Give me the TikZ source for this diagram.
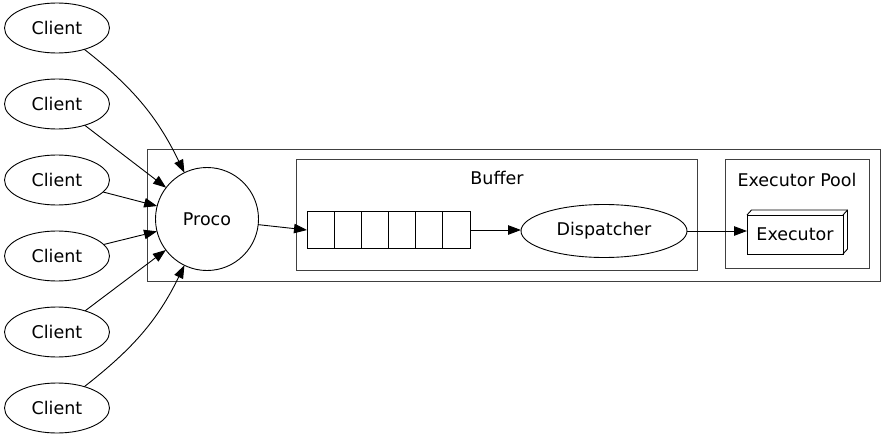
\documentclass[tikz,border=0pt]{standalone}
\usepackage{fontspec}
\setmainfont{DejaVu Sans}
\usetikzlibrary{arrows.meta,calc,shapes.geometric}
\begin{document}
\begin{tikzpicture}[x=1pt,y=1pt,
  font=\fontsize{17.5}{20}\selectfont,
  line width=0.9pt,
  every node/.style={inner sep=0pt, outer sep=0pt},
  client/.style={draw, ellipse, minimum width=105pt, minimum height=50pt},
  procnode/.style={draw, circle, minimum size=103pt},
  dispnode/.style={draw, ellipse, minimum width=166pt, minimum height=53pt},
  cluster/.style={draw=black!75},
  queuebox/.style={draw, minimum width=163pt, minimum height=37pt},
  execbox/.style={draw, minimum width=96pt, minimum height=39pt},
  arr/.style={-{Triangle[length=13pt,width=9.5pt]}}
]
\useasboundingbox (0,0) rectangle (896,-441);
% clusters
\node[cluster, minimum width=733pt, minimum height=132pt] (outer) at (513.5,-215) {};
\node[cluster, minimum width=401pt, minimum height=111pt] (buffer) at (496.5,-214.5) {};
\node[cluster, minimum width=144pt, minimum height=109pt] (pool) at (797,-213.5) {};
\node (bufferlabel) at (497,-178) {Buffer};
\node (poollabel) at (797,-180) {Executor Pool};
% clients
\node[client] (c1) at (57,-28) {Client};
\node[client] (c2) at (57,-104) {Client};
\node[client] (c3) at (57,-180) {Client};
\node[client] (c4) at (57,-256) {Client};
\node[client] (c5) at (57,-332) {Client};
\node[client] (c6) at (57,-408) {Client};
% proco
\node[procnode, fill=white] (proco) at (207,-219) {Proco};
% queue
\node[queuebox] (queue) at (388.5,-230) {};
\foreach \i in {1,...,5}
  \draw ($(queue.north west)!\i/6!(queue.north east)$) -- ($(queue.south west)!\i/6!(queue.south east)$);
% dispatcher
\node[dispnode] (disp) at (604,-231) {Dispatcher};
% executor
\node[execbox] (exec) at (795,-234.5) {Executor};
\draw (exec.north west) -- ++(4.5,5) -- ($(exec.north east)+(4.5,5)$) -- ($(exec.south east)+(4.5,5)$) -- (exec.south east);
\draw (exec.north east) -- ++(4.5,5);
% edges
\draw[arr] (c1) to[out=-38,in=116] (proco);
\draw[arr] (c2) -- (proco);
\draw[arr] (c3) -- (proco);
\draw[arr] (c4) -- (proco);
\draw[arr] (c5) -- (proco);
\draw[arr] (c6) to[out=38,in=-116] (proco);
\draw[arr] (proco) -- (queue.west);
\draw[arr] (queue.east) -- (queue.east -| disp.west);
\draw[arr] (disp.east) -- (disp.east -| exec.west);
\end{tikzpicture}
\end{document}
